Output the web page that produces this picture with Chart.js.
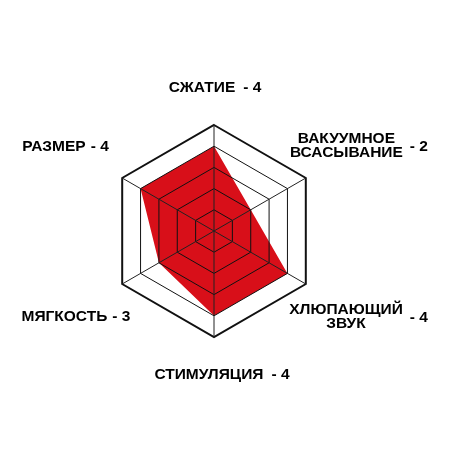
<!DOCTYPE html>
<html>
<head>
<meta charset="utf-8">
<script src="https://cdn.jsdelivr.net/npm/chart.js@4"></script>
<style>
  html, body { margin: 0; padding: 0; background: #fff; }
  #wrap { width: 450px; height: 450px; }
</style>
</head>
<body>
<div id="wrap"><canvas id="chart" width="450" height="450"></canvas></div>
<script>
// Оси (по часовой стрелке, начиная сверху) и оценки
const categories = [
  ['СЖАТИЕ'],
  ['ВАКУУМНОЕ', 'ВСАСЫВАНИЕ'],
  ['ХЛЮПАЮЩИЙ', 'ЗВУК'],
  ['СТИМУЛЯЦИЯ'],
  ['МЯГКОСТЬ'],
  ['РАЗМЕР']
];
const scores = [4, 2, 4, 4, 3, 4];
const maxScore = 5;

// Расположение подписей относительно внешней вершины шестиугольника
const labelPlace = [
  { mode: 'center', dx: 1, dy: -37.5, gap: 8 },
  { mode: 'block', dx: 97, dy: -32, gap: 7 },
  { mode: 'block', dx: 97, dy: 32.5, gap: 7 },
  { mode: 'center', dx: 8, dy: 38, gap: 8 },
  { mode: 'left', dx: -100.7, dy: 32.5, gap: 5 },
  { mode: 'left', dx: -100, dy: -31, gap: 5 }
];

const axisLabels = {
  id: 'axisLabels',
  afterDraw(chart) {
    const r = chart.scales.r;
    const ctx = chart.ctx;
    const lineH = 14;
    ctx.save();
    ctx.font = 'bold 15.5px "Liberation Sans", Arial, sans-serif';
    ctx.fillStyle = '#000';
    ctx.textBaseline = 'middle';
    categories.forEach((lines, i) => {
      const v = r.getPointPosition(i, r.drawingArea);
      const pl = labelPlace[i];
      const x = v.x + pl.dx, y = v.y + pl.dy;
      const suffix = '- ' + scores[i];
      const sufW = ctx.measureText(suffix).width;
      const nameW = Math.max(...lines.map(l => ctx.measureText(l).width));
      if (pl.mode === 'block') {
        const top = y - (lines.length - 1) * lineH / 2;
        ctx.textAlign = 'center';
        lines.forEach((l, k) => ctx.fillText(l, x - nameW / 2, top + k * lineH));
        ctx.textAlign = 'left';
        ctx.fillText(suffix, x + pl.gap, y + 1);
      } else {
        const total = nameW + pl.gap + sufW;
        const start = pl.mode === 'center' ? x - total / 2 : x;
        ctx.textAlign = 'left';
        ctx.fillText(lines[0], start, y);
        ctx.fillText(suffix, start + nameW + pl.gap, y);
      }
    });
    ctx.restore();
  }
};

new Chart(document.getElementById('chart'), {
  type: 'radar',
  data: {
    labels: categories,
    datasets: [{
      data: scores,
      backgroundColor: '#d80f19',
      borderWidth: 0,
      pointRadius: 0,
      fill: true
    }]
  },
  options: {
    responsive: false,
    animation: false,
    devicePixelRatio: 1,
    layout: { padding: { left: 108, right: 130, top: 125, bottom: 113 } },
    plugins: { legend: { display: false }, tooltip: { enabled: false } },
    elements: { line: { tension: 0 } },
    scales: {
      r: {
        min: 0,
        max: maxScore,
        ticks: { display: false, stepSize: 1 },
        pointLabels: { display: false },
        angleLines: { color: '#222', lineWidth: 1 },
        grid: {
          z: 1,
          color: '#111',
          lineWidth: c => (c.tick && c.tick.value === maxScore ? 2 : 1)
        }
      }
    }
  },
  plugins: [axisLabels]
});
</script>
</body>
</html>
